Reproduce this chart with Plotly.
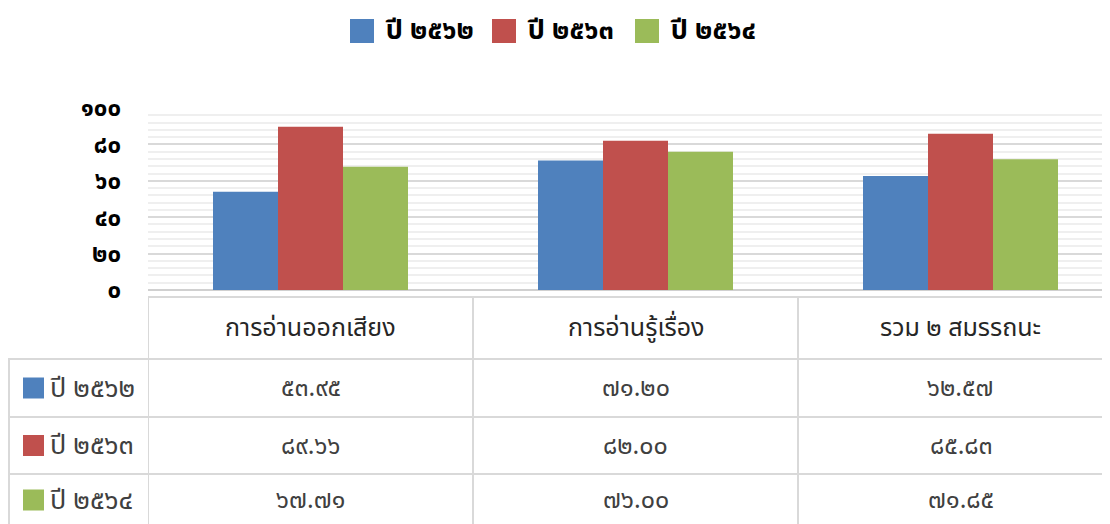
import plotly.graph_objects as go

categories = ["การอ่านออกเสียง", "การอ่านรู้เรื่อง", "รวม ๒ สมรรถนะ"]
series_names = ["ปี ๒๕๖๒", "ปี ๒๕๖๓", "ปี ๒๕๖๔"]
values_2562 = [53.95, 71.20, 62.57]
values_2563 = [89.66, 82.00, 85.83]
values_2564 = [67.71, 76.00, 71.85]
y_ticks = [0, 20, 40, 60, 80, 100]

colors = ["#4F81BD", "#C0504D", "#9BBB59"]
series_values = [values_2562, values_2563, values_2564]

TH = str.maketrans("0123456789", "๐๑๒๓๔๕๖๗๘๙")


def thai(s):
    return str(s).translate(TH)


W, H = 1110, 524
OFF = 8  # page body margin
FONT = "Tahoma, 'Noto Sans Thai', 'Leelawadee UI', sans-serif"


def py(px):
    return 1 - (px - OFF) / H


def pxx(px):
    return (px - OFF) / W


fig = go.Figure()
xs = list(range(len(categories)))
for name, vals, c in zip(series_names, series_values, colors):
    fig.add_trace(go.Bar(x=xs, y=vals, name=name, marker=dict(color=c, line=dict(width=0)),
                         showlegend=False, hoverinfo="y+name"))

grid = "#d9d9d9"
shapes = []
annotations = []

# custom legend at top
leg_sq = [(350, 374), (492, 516), (635, 659)]
for (x0, x1), name, c in zip(leg_sq, series_names, colors):
    shapes.append(dict(type="rect", xref="paper", yref="paper", x0=pxx(x0), x1=pxx(x1),
                       y0=py(43), y1=py(19), fillcolor=c, line=dict(width=0)))
    annotations.append(dict(xref="paper", yref="paper", x=pxx(x1 + 9), y=py(31), text="<b>%s</b>" % name,
                            showarrow=False, xanchor="left", yanchor="middle",
                            font=dict(size=27, color="#000000", family=FONT)))

# data table
line = dict(color=grid, width=2)
hdr_top, r1, r2, r3, bot = 297, 359, 417, 474, 532
shapes.append(dict(type="line", xref="paper", yref="paper", x0=pxx(148), x1=1, y0=py(hdr_top), y1=py(hdr_top), line=line))
for yy in (r1, r2, r3):
    shapes.append(dict(type="line", xref="paper", yref="paper", x0=pxx(8), x1=1, y0=py(yy), y1=py(yy), line=line))
shapes.append(dict(type="line", xref="paper", yref="paper", x0=pxx(9), x1=pxx(9), y0=py(r1), y1=0, line=line))
for xb in (-0.5, 0.5, 1.5):
    shapes.append(dict(type="line", xref="x", yref="paper", x0=xb, x1=xb, y0=py(hdr_top), y1=0, line=line))

for i, cat in enumerate(categories):
    annotations.append(dict(xref="x", yref="paper", x=i, y=py((hdr_top + r1) / 2), text=cat, showarrow=False,
                            xanchor="center", yanchor="middle", font=dict(size=25, color="#262626", family=FONT)))

row_centers = [(r1 + r2) / 2, (r2 + r3) / 2, 500]
for name, vals, c, yc in zip(series_names, series_values, colors, row_centers):
    shapes.append(dict(type="rect", xref="paper", yref="paper", x0=pxx(23), x1=pxx(44),
                       y0=py(yc + 10.5), y1=py(yc - 10.5), fillcolor=c, line=dict(width=0)))
    annotations.append(dict(xref="paper", yref="paper", x=pxx(48), y=py(yc), text=name, showarrow=False,
                            xanchor="left", yanchor="middle", font=dict(size=27, color="#404040", family=FONT)))
    for i, v in enumerate(vals):
        annotations.append(dict(xref="x", yref="paper", x=i, y=py(yc), text=thai("%.2f" % v), showarrow=False,
                                xanchor="center", yanchor="middle", font=dict(size=25, color="#404040", family=FONT)))

fig.update_layout(
    width=W, height=H, margin=dict(l=0, r=0, t=0, b=0, autoexpand=False),
    paper_bgcolor="white", plot_bgcolor="white",
    barmode="group", bargap=0.4, bargroupgap=0,
    showlegend=False,
    font=dict(family=FONT),
    shapes=shapes, annotations=annotations,
    xaxis=dict(domain=[pxx(148), 1], range=[-0.5, 2.5 - (13 - OFF) / 325], showticklabels=False, ticks="",
               showgrid=False, zeroline=False, showline=False, fixedrange=True, automargin=False),
    yaxis=dict(domain=[py(290), py(108)], range=[0, 100], tickvals=y_ticks,
               ticktext=["<b>%s</b>" % thai(t) for t in y_ticks],
               tickfont=dict(size=24, color="#000000", family=FONT),
               showgrid=True, gridcolor=grid, gridwidth=2,
               minor=dict(dtick=4, showgrid=True, gridcolor="#efefef", gridwidth=1.5),
               zeroline=True, zerolinecolor="#d0d0d0", zerolinewidth=2,
               ticks="", ticklabelstandoff=26, showline=False, fixedrange=True, automargin=False),
)

fig.write_html("out.html")
